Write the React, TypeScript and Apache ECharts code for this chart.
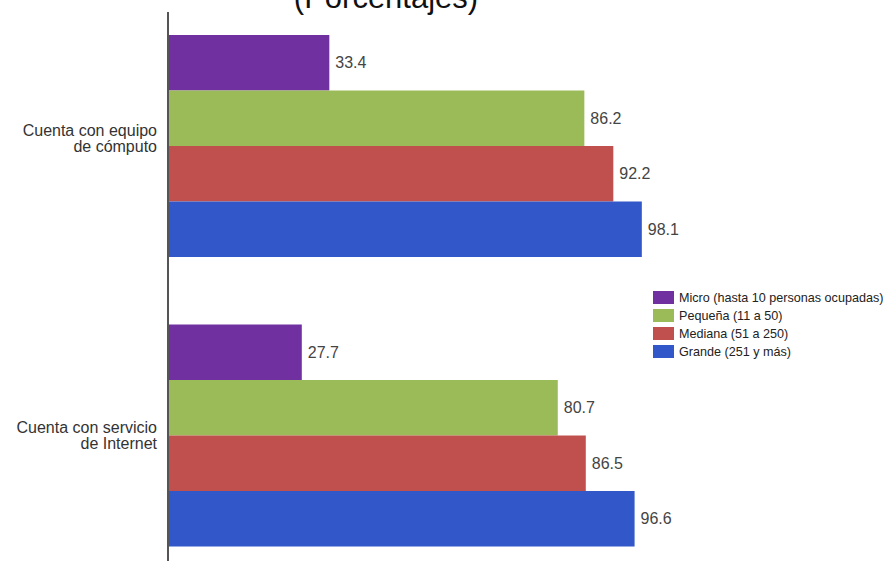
import React, { useEffect, useRef } from "react";
import * as echarts from "echarts";

const categories = ["Cuenta con equipo\nde cómputo", "Cuenta con servicio\nde Internet"];
const seriesNames = [
  "Micro (hasta 10 personas ocupadas)",
  "Pequeña (11 a 50)",
  "Mediana (51 a 250)",
  "Grande (251 y más)",
];
const microValues = [33.4, 27.7];
const pequenaValues = [86.2, 80.7];
const medianaValues = [92.2, 86.5];
const grandeValues = [98.1, 96.6];
const colors = ["#7030A0", "#9BBB59", "#C0504D", "#3157C8"];
const titleText = "(Porcentajes)";

const FONT = "'Liberation Sans', Arial, sans-serif";

export default function App() {
  const ref = useRef<HTMLDivElement>(null);
  useEffect(() => {
    if (!ref.current) return;
    const chart = echarts.init(ref.current, undefined, { renderer: "svg" });
    const values = [microValues, pequenaValues, medianaValues, grandeValues];
    chart.setOption({
      animation: false,
      backgroundColor: "#ffffff",
      textStyle: { fontFamily: FONT },
      grid: { left: 168, right: 239, top: 21.2, bottom: 19.6, containLabel: false },
      xAxis: { type: "value", min: 0, max: 100, show: false },
      yAxis: {
        type: "category",
        data: categories,
        inverse: true,
        axisLine: { show: false },
        axisTick: { show: false },
        splitLine: { show: false },
        axisLabel: {
          fontSize: 16,
          color: "#333333",
          lineHeight: 16,
          margin: 11,
          align: "right",
          fontFamily: FONT,
          formatter: (v: string, i: number) => (i === 0 ? v + "\n " : v),
        },
      },
      legend: {
        orient: "vertical",
        left: 653,
        top: 311,
        padding: 0,
        itemWidth: 21,
        itemHeight: 13,
        itemGap: 5,
        icon: "rect",
        data: seriesNames,
        textStyle: { fontSize: 12.6, color: "#222222", fontFamily: FONT },
      },
      graphic: [
        {
          type: "text",
          style: {
            text: titleText,
            x: 386,
            y: 33,
            align: "center",
            verticalAlign: "bottom",
            fontSize: 31,
            fontFamily: FONT,
            fill: "#111111",
          },
        },
        {
          type: "line",
          shape: { x1: 168, y1: 32, x2: 168, y2: 620 },
          style: { stroke: "#555555", lineWidth: 2 },
          z: 10,
        },
      ],
      series: seriesNames.map((name, i) => ({
        name,
        type: "bar",
        data: values[i],
        barWidth: 55.5,
        barGap: "0%",
        itemStyle: { color: colors[i] },
        label: {
          show: true,
          position: "right",
          distance: 6,
          fontSize: 16,
          color: "#444444",
          fontFamily: FONT,
          formatter: (p: any) => p.value.toFixed(1),
        },
      })),
    });
    return () => chart.dispose();
  }, []);
  return (
    <div
      ref={ref}
      style={{ position: "absolute", left: 0, top: -20, width: 890, height: 620 }}
    />
  );
}
